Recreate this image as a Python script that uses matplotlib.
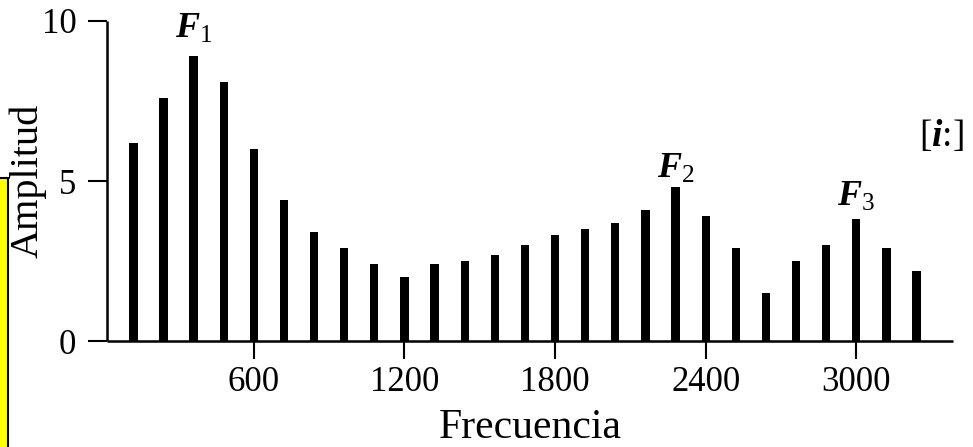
import matplotlib
matplotlib.use("Agg")
import matplotlib.pyplot as plt
from matplotlib.patches import Rectangle

# harmonic spectrum of the vowel [i:], fundamental 120 Hz
freqs = [120 * k for k in range(1, 28)]
amps = [6.2, 7.6, 8.9, 8.1, 6.0, 4.4, 3.4, 2.9, 2.4, 2.0,
        2.4, 2.5, 2.7, 3.0, 3.3, 3.5, 3.7, 4.1, 4.8, 3.9,
        2.9, 1.5, 2.5, 3.0, 3.8, 2.9, 2.2]
xticks = [600, 1200, 1800, 2400, 3000]
yticks = [0, 5, 10]
formants = [("1", 360, 9.75), ("2", 2280, 5.35), ("3", 3000, 4.5)]

plt.rcParams['font.family'] = 'Liberation Serif'
plt.rcParams['mathtext.fontset'] = 'custom'
plt.rcParams['mathtext.rm'] = 'Liberation Serif'
plt.rcParams['mathtext.it'] = 'Liberation Serif:italic:bold'
plt.rcParams['mathtext.bf'] = 'Liberation Serif:bold'

W, H = 973, 447
fig = plt.figure(figsize=(W / 100, H / 100), dpi=100)
ax = fig.add_axes([107 / W, 106 / H, 846 / W, 320 / H])

ax.bar(freqs, amps, width=33, color='black')

ax.set_xlim(15, 3385)
ax.set_ylim(0, 10)
ax.spines['top'].set_visible(False)
ax.spines['right'].set_visible(False)
for s in ('left', 'bottom'):
    ax.spines[s].set_linewidth(1.8)
    ax.spines[s].set_capstyle('butt')

ax.set_xticks(xticks)
ax.set_yticks(yticks)
ax.tick_params(axis='x', length=13, width=1.5, pad=5, labelsize=25)
ax.tick_params(axis='y', length=14, width=1.5, pad=8, labelsize=25)

ax.set_xlabel('Frecuencia', fontsize=30)
ax.set_ylabel('Amplitud', fontsize=29)
ax.xaxis.set_label_coords(0.5, -0.21)
ax.yaxis.set_label_coords(-0.071, 0.5)

for sub, fx, fy in formants:
    ax.text(fx, fy, r'$F_{%s}$' % sub, ha='center', va='center', fontsize=26)

fig.text(919 / W, 1 - 136 / H, r'[$i$:]', ha='left', va='center', fontsize=27)

# scan artefacts at the left edge
fig.patches.append(Rectangle((0, 40 / H), 8 / W, 45 / H, transform=fig.transFigure,
                             facecolor='#eef3f8', edgecolor='none'))
fig.patches.append(Rectangle((-5 / W, -5 / H), 13 / W, (H - 178 + 5) / H,
                             transform=fig.transFigure, facecolor='#ffff00',
                             edgecolor='black', linewidth=1.5))

fig.savefig('out.png', dpi=100)
